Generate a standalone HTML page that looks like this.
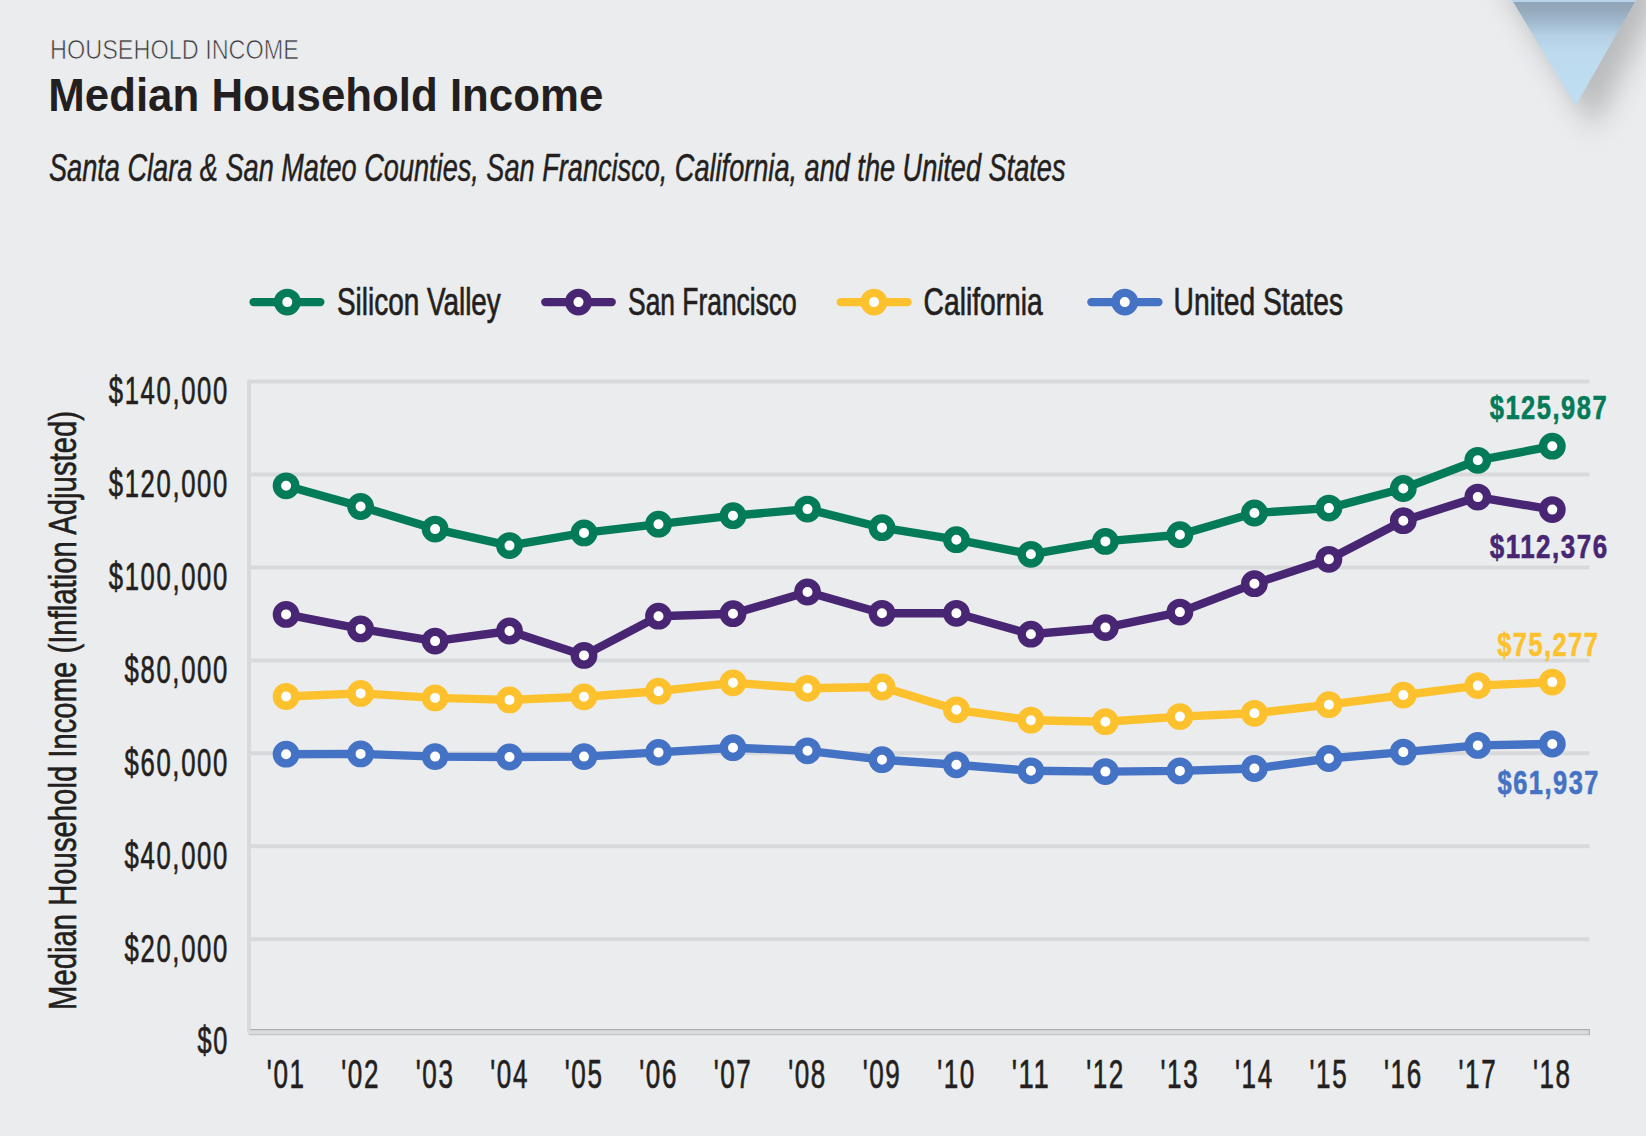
<!DOCTYPE html>
<html><head><meta charset="utf-8"><title>Median Household Income</title>
<style>
html,body{margin:0;padding:0;background:#ebecee;overflow:hidden;}
svg{display:block;font-family:"Liberation Sans", sans-serif;}
</style></head>
<body>
<svg width="1646" height="1136" viewBox="0 0 1646 1136">
<rect width="1646" height="1136" fill="#ebecee"/>

<defs>
  <linearGradient id="tri" gradientUnits="userSpaceOnUse" x1="0" y1="0" x2="0" y2="106">
    <stop offset="0" stop-color="#8fa4b7"/>
    <stop offset="0.1" stop-color="#95aabd"/>
    <stop offset="0.22" stop-color="#a3bbd0"/>
    <stop offset="0.34" stop-color="#b5d0e5"/>
    <stop offset="0.5" stop-color="#bddaee"/>
    <stop offset="1" stop-color="#c0def2"/>
  </linearGradient>
  <filter id="sh" x="-50%" y="-50%" width="200%" height="200%">
    <feGaussianBlur stdDeviation="14"/>
  </filter>
</defs>
<path d="M1500,-20 L1660,-20 L1660,0 L1594,130 Z" fill="#8a8b8d" opacity="0.5" filter="url(#sh)"/>
<path d="M1512,0 L1636,0 L1575.5,106 Z" fill="url(#tri)"/>
<rect x="1512" y="0" width="124" height="2" fill="#b9d4ea"/>

<text x="50.0" y="58.9" font-size="27" font-weight="normal" font-style="normal" fill="#38383a" text-anchor="start" textLength="249.0" lengthAdjust="spacingAndGlyphs" stroke="#ebecee" stroke-width="0.7">HOUSEHOLD INCOME</text>
<text x="48.3" y="110.8" font-size="46.4" font-weight="bold" font-style="normal" fill="#231f20" text-anchor="start" textLength="555.0" lengthAdjust="spacingAndGlyphs">Median Household Income</text>
<text x="49.0" y="181.0" font-size="38" font-weight="normal" font-style="italic" fill="#231f20" text-anchor="start" textLength="1016.5" lengthAdjust="spacingAndGlyphs" stroke="#231f20" stroke-width="0.5">Santa Clara &amp; San Mateo Counties, San Francisco, California, and the United States</text>
<line x1="253.6" y1="302.1" x2="320.3" y2="302.1" stroke="#037b58" stroke-width="8.4" stroke-linecap="round"/>
<circle cx="287.3" cy="302.1" r="9.2" fill="#fff" stroke="#037b58" stroke-width="8.4"/>
<text x="337.0" y="314.9" font-size="38" font-weight="normal" font-style="normal" fill="#231f20" text-anchor="start" textLength="163.8" lengthAdjust="spacingAndGlyphs" stroke="#231f20" stroke-width="0.7">Silicon Valley</text>
<line x1="545.3" y1="302.1" x2="611.7" y2="302.1" stroke="#482673" stroke-width="8.4" stroke-linecap="round"/>
<circle cx="578.5" cy="302.1" r="9.2" fill="#fff" stroke="#482673" stroke-width="8.4"/>
<text x="628.1" y="314.9" font-size="38" font-weight="normal" font-style="normal" fill="#231f20" text-anchor="start" textLength="168.6" lengthAdjust="spacingAndGlyphs" stroke="#231f20" stroke-width="0.7">San Francisco</text>
<line x1="840.8" y1="302.1" x2="907.5" y2="302.1" stroke="#fcc12d" stroke-width="8.4" stroke-linecap="round"/>
<circle cx="874.0" cy="302.1" r="9.2" fill="#fff" stroke="#fcc12d" stroke-width="8.4"/>
<text x="923.6" y="314.9" font-size="38" font-weight="normal" font-style="normal" fill="#231f20" text-anchor="start" textLength="119.1" lengthAdjust="spacingAndGlyphs" stroke="#231f20" stroke-width="0.7">California</text>
<line x1="1091.4" y1="302.1" x2="1158.4" y2="302.1" stroke="#4472c4" stroke-width="8.4" stroke-linecap="round"/>
<circle cx="1124.8" cy="302.1" r="9.2" fill="#fff" stroke="#4472c4" stroke-width="8.4"/>
<text x="1173.6" y="314.9" font-size="38" font-weight="normal" font-style="normal" fill="#231f20" text-anchor="start" textLength="169.4" lengthAdjust="spacingAndGlyphs" stroke="#231f20" stroke-width="0.7">United States</text>
<line x1="249" y1="474.4" x2="1589.5" y2="474.4" stroke="#d8d9db" stroke-width="4"/>
<line x1="249" y1="567.4" x2="1589.5" y2="567.4" stroke="#d8d9db" stroke-width="4"/>
<line x1="249" y1="660.4" x2="1589.5" y2="660.4" stroke="#d8d9db" stroke-width="4"/>
<line x1="249" y1="753.3" x2="1589.5" y2="753.3" stroke="#d8d9db" stroke-width="4"/>
<line x1="249" y1="846.2" x2="1589.5" y2="846.2" stroke="#d8d9db" stroke-width="4"/>
<line x1="249" y1="939.2" x2="1589.5" y2="939.2" stroke="#d8d9db" stroke-width="4"/>
<path d="M1589.5,381.5 L249,381.5 L249,1032" fill="none" stroke="#d8d9db" stroke-width="4" stroke-linejoin="round"/>
<rect x="248" y="1030" width="1341.5" height="4.5" fill="#dadbdd"/>
<rect x="250.5" y="1029" width="1339" height="1.2" fill="#abacae"/>
<rect x="249" y="1034" width="1340.5" height="1.2" fill="#c3c4c6"/>
<rect x="1588.8" y="1029" width="1.2" height="6" fill="#b0b1b3"/>
<text x="108.8" y="403.8" font-size="39" font-weight="normal" font-style="normal" fill="#231f20" text-anchor="start" textLength="120.1" lengthAdjust="spacingAndGlyphs" stroke="#231f20" stroke-width="0.7" letter-spacing="2.5">$140,000</text>
<text x="108.8" y="496.8" font-size="39" font-weight="normal" font-style="normal" fill="#231f20" text-anchor="start" textLength="120.1" lengthAdjust="spacingAndGlyphs" stroke="#231f20" stroke-width="0.7" letter-spacing="2.5">$120,000</text>
<text x="108.8" y="589.7" font-size="39" font-weight="normal" font-style="normal" fill="#231f20" text-anchor="start" textLength="120.1" lengthAdjust="spacingAndGlyphs" stroke="#231f20" stroke-width="0.7" letter-spacing="2.5">$100,000</text>
<text x="124.6" y="682.6" font-size="39" font-weight="normal" font-style="normal" fill="#231f20" text-anchor="start" textLength="104.3" lengthAdjust="spacingAndGlyphs" stroke="#231f20" stroke-width="0.7" letter-spacing="2.5">$80,000</text>
<text x="124.6" y="775.6" font-size="39" font-weight="normal" font-style="normal" fill="#231f20" text-anchor="start" textLength="104.3" lengthAdjust="spacingAndGlyphs" stroke="#231f20" stroke-width="0.7" letter-spacing="2.5">$60,000</text>
<text x="124.6" y="868.5" font-size="39" font-weight="normal" font-style="normal" fill="#231f20" text-anchor="start" textLength="104.3" lengthAdjust="spacingAndGlyphs" stroke="#231f20" stroke-width="0.7" letter-spacing="2.5">$40,000</text>
<text x="124.6" y="961.5" font-size="39" font-weight="normal" font-style="normal" fill="#231f20" text-anchor="start" textLength="104.3" lengthAdjust="spacingAndGlyphs" stroke="#231f20" stroke-width="0.7" letter-spacing="2.5">$20,000</text>
<text x="197.5" y="1054.3" font-size="39" font-weight="normal" font-style="normal" fill="#231f20" text-anchor="start" textLength="31.4" lengthAdjust="spacingAndGlyphs" stroke="#231f20" stroke-width="0.7" letter-spacing="2.5">$0</text>
<text transform="translate(76.1,1010) rotate(-90)" font-size="39" fill="#231f20" stroke="#231f20" stroke-width="0.6" textLength="599" lengthAdjust="spacingAndGlyphs">Median Household Income (Inflation Adjusted)</text>
<text x="286.2" y="1088.1" font-size="41" font-weight="normal" font-style="normal" fill="#231f20" text-anchor="middle" textLength="38.7" lengthAdjust="spacingAndGlyphs" stroke="#231f20" stroke-width="0.7" letter-spacing="2.5">'01</text>
<text x="360.6" y="1088.1" font-size="41" font-weight="normal" font-style="normal" fill="#231f20" text-anchor="middle" textLength="38.7" lengthAdjust="spacingAndGlyphs" stroke="#231f20" stroke-width="0.7" letter-spacing="2.5">'02</text>
<text x="435.1" y="1088.1" font-size="41" font-weight="normal" font-style="normal" fill="#231f20" text-anchor="middle" textLength="38.7" lengthAdjust="spacingAndGlyphs" stroke="#231f20" stroke-width="0.7" letter-spacing="2.5">'03</text>
<text x="509.6" y="1088.1" font-size="41" font-weight="normal" font-style="normal" fill="#231f20" text-anchor="middle" textLength="38.7" lengthAdjust="spacingAndGlyphs" stroke="#231f20" stroke-width="0.7" letter-spacing="2.5">'04</text>
<text x="584.1" y="1088.1" font-size="41" font-weight="normal" font-style="normal" fill="#231f20" text-anchor="middle" textLength="38.7" lengthAdjust="spacingAndGlyphs" stroke="#231f20" stroke-width="0.7" letter-spacing="2.5">'05</text>
<text x="658.6" y="1088.1" font-size="41" font-weight="normal" font-style="normal" fill="#231f20" text-anchor="middle" textLength="38.7" lengthAdjust="spacingAndGlyphs" stroke="#231f20" stroke-width="0.7" letter-spacing="2.5">'06</text>
<text x="733.0" y="1088.1" font-size="41" font-weight="normal" font-style="normal" fill="#231f20" text-anchor="middle" textLength="38.7" lengthAdjust="spacingAndGlyphs" stroke="#231f20" stroke-width="0.7" letter-spacing="2.5">'07</text>
<text x="807.5" y="1088.1" font-size="41" font-weight="normal" font-style="normal" fill="#231f20" text-anchor="middle" textLength="38.7" lengthAdjust="spacingAndGlyphs" stroke="#231f20" stroke-width="0.7" letter-spacing="2.5">'08</text>
<text x="882.0" y="1088.1" font-size="41" font-weight="normal" font-style="normal" fill="#231f20" text-anchor="middle" textLength="38.7" lengthAdjust="spacingAndGlyphs" stroke="#231f20" stroke-width="0.7" letter-spacing="2.5">'09</text>
<text x="956.5" y="1088.1" font-size="41" font-weight="normal" font-style="normal" fill="#231f20" text-anchor="middle" textLength="38.7" lengthAdjust="spacingAndGlyphs" stroke="#231f20" stroke-width="0.7" letter-spacing="2.5">'10</text>
<text x="1031.0" y="1088.1" font-size="41" font-weight="normal" font-style="normal" fill="#231f20" text-anchor="middle" textLength="38.7" lengthAdjust="spacingAndGlyphs" stroke="#231f20" stroke-width="0.7" letter-spacing="2.5">'11</text>
<text x="1105.5" y="1088.1" font-size="41" font-weight="normal" font-style="normal" fill="#231f20" text-anchor="middle" textLength="38.7" lengthAdjust="spacingAndGlyphs" stroke="#231f20" stroke-width="0.7" letter-spacing="2.5">'12</text>
<text x="1179.9" y="1088.1" font-size="41" font-weight="normal" font-style="normal" fill="#231f20" text-anchor="middle" textLength="38.7" lengthAdjust="spacingAndGlyphs" stroke="#231f20" stroke-width="0.7" letter-spacing="2.5">'13</text>
<text x="1254.4" y="1088.1" font-size="41" font-weight="normal" font-style="normal" fill="#231f20" text-anchor="middle" textLength="38.7" lengthAdjust="spacingAndGlyphs" stroke="#231f20" stroke-width="0.7" letter-spacing="2.5">'14</text>
<text x="1328.9" y="1088.1" font-size="41" font-weight="normal" font-style="normal" fill="#231f20" text-anchor="middle" textLength="38.7" lengthAdjust="spacingAndGlyphs" stroke="#231f20" stroke-width="0.7" letter-spacing="2.5">'15</text>
<text x="1403.4" y="1088.1" font-size="41" font-weight="normal" font-style="normal" fill="#231f20" text-anchor="middle" textLength="38.7" lengthAdjust="spacingAndGlyphs" stroke="#231f20" stroke-width="0.7" letter-spacing="2.5">'16</text>
<text x="1477.9" y="1088.1" font-size="41" font-weight="normal" font-style="normal" fill="#231f20" text-anchor="middle" textLength="38.7" lengthAdjust="spacingAndGlyphs" stroke="#231f20" stroke-width="0.7" letter-spacing="2.5">'17</text>
<text x="1552.3" y="1088.1" font-size="41" font-weight="normal" font-style="normal" fill="#231f20" text-anchor="middle" textLength="38.7" lengthAdjust="spacingAndGlyphs" stroke="#231f20" stroke-width="0.7" letter-spacing="2.5">'18</text>
<polyline points="286.1,754.2 360.6,753.9 435.1,756.6 509.5,757.0 584.0,756.6 658.5,752.4 733.0,747.7 807.5,750.8 882.0,759.7 956.4,764.8 1030.9,770.8 1105.4,771.6 1179.9,770.9 1254.4,768.5 1328.9,758.5 1403.3,752.1 1477.8,745.4 1552.3,744.0" fill="none" stroke="#4472c4" stroke-width="8.4" stroke-linejoin="round" stroke-linecap="round"/>
<circle cx="286.1" cy="754.2" r="9.2" fill="#fff" stroke="#4472c4" stroke-width="8.4"/>
<circle cx="360.6" cy="753.9" r="9.2" fill="#fff" stroke="#4472c4" stroke-width="8.4"/>
<circle cx="435.1" cy="756.6" r="9.2" fill="#fff" stroke="#4472c4" stroke-width="8.4"/>
<circle cx="509.5" cy="757.0" r="9.2" fill="#fff" stroke="#4472c4" stroke-width="8.4"/>
<circle cx="584.0" cy="756.6" r="9.2" fill="#fff" stroke="#4472c4" stroke-width="8.4"/>
<circle cx="658.5" cy="752.4" r="9.2" fill="#fff" stroke="#4472c4" stroke-width="8.4"/>
<circle cx="733.0" cy="747.7" r="9.2" fill="#fff" stroke="#4472c4" stroke-width="8.4"/>
<circle cx="807.5" cy="750.8" r="9.2" fill="#fff" stroke="#4472c4" stroke-width="8.4"/>
<circle cx="882.0" cy="759.7" r="9.2" fill="#fff" stroke="#4472c4" stroke-width="8.4"/>
<circle cx="956.4" cy="764.8" r="9.2" fill="#fff" stroke="#4472c4" stroke-width="8.4"/>
<circle cx="1030.9" cy="770.8" r="9.2" fill="#fff" stroke="#4472c4" stroke-width="8.4"/>
<circle cx="1105.4" cy="771.6" r="9.2" fill="#fff" stroke="#4472c4" stroke-width="8.4"/>
<circle cx="1179.9" cy="770.9" r="9.2" fill="#fff" stroke="#4472c4" stroke-width="8.4"/>
<circle cx="1254.4" cy="768.5" r="9.2" fill="#fff" stroke="#4472c4" stroke-width="8.4"/>
<circle cx="1328.9" cy="758.5" r="9.2" fill="#fff" stroke="#4472c4" stroke-width="8.4"/>
<circle cx="1403.3" cy="752.1" r="9.2" fill="#fff" stroke="#4472c4" stroke-width="8.4"/>
<circle cx="1477.8" cy="745.4" r="9.2" fill="#fff" stroke="#4472c4" stroke-width="8.4"/>
<circle cx="1552.3" cy="744.0" r="9.2" fill="#fff" stroke="#4472c4" stroke-width="8.4"/>
<polyline points="286.1,696.5 360.6,693.4 435.1,697.9 509.5,699.9 584.0,696.8 658.5,691.2 733.0,682.8 807.5,688.3 882.0,687.0 956.4,709.8 1030.9,720.2 1105.4,721.7 1179.9,716.6 1254.4,713.3 1328.9,704.7 1403.3,695.1 1477.8,685.6 1552.3,682.1" fill="none" stroke="#fcc12d" stroke-width="8.4" stroke-linejoin="round" stroke-linecap="round"/>
<circle cx="286.1" cy="696.5" r="9.2" fill="#fff" stroke="#fcc12d" stroke-width="8.4"/>
<circle cx="360.6" cy="693.4" r="9.2" fill="#fff" stroke="#fcc12d" stroke-width="8.4"/>
<circle cx="435.1" cy="697.9" r="9.2" fill="#fff" stroke="#fcc12d" stroke-width="8.4"/>
<circle cx="509.5" cy="699.9" r="9.2" fill="#fff" stroke="#fcc12d" stroke-width="8.4"/>
<circle cx="584.0" cy="696.8" r="9.2" fill="#fff" stroke="#fcc12d" stroke-width="8.4"/>
<circle cx="658.5" cy="691.2" r="9.2" fill="#fff" stroke="#fcc12d" stroke-width="8.4"/>
<circle cx="733.0" cy="682.8" r="9.2" fill="#fff" stroke="#fcc12d" stroke-width="8.4"/>
<circle cx="807.5" cy="688.3" r="9.2" fill="#fff" stroke="#fcc12d" stroke-width="8.4"/>
<circle cx="882.0" cy="687.0" r="9.2" fill="#fff" stroke="#fcc12d" stroke-width="8.4"/>
<circle cx="956.4" cy="709.8" r="9.2" fill="#fff" stroke="#fcc12d" stroke-width="8.4"/>
<circle cx="1030.9" cy="720.2" r="9.2" fill="#fff" stroke="#fcc12d" stroke-width="8.4"/>
<circle cx="1105.4" cy="721.7" r="9.2" fill="#fff" stroke="#fcc12d" stroke-width="8.4"/>
<circle cx="1179.9" cy="716.6" r="9.2" fill="#fff" stroke="#fcc12d" stroke-width="8.4"/>
<circle cx="1254.4" cy="713.3" r="9.2" fill="#fff" stroke="#fcc12d" stroke-width="8.4"/>
<circle cx="1328.9" cy="704.7" r="9.2" fill="#fff" stroke="#fcc12d" stroke-width="8.4"/>
<circle cx="1403.3" cy="695.1" r="9.2" fill="#fff" stroke="#fcc12d" stroke-width="8.4"/>
<circle cx="1477.8" cy="685.6" r="9.2" fill="#fff" stroke="#fcc12d" stroke-width="8.4"/>
<circle cx="1552.3" cy="682.1" r="9.2" fill="#fff" stroke="#fcc12d" stroke-width="8.4"/>
<polyline points="286.1,614.4 360.6,628.9 435.1,641.1 509.5,631.0 584.0,655.4 658.5,616.2 733.0,613.7 807.5,592.0 882.0,613.3 956.4,613.3 1030.9,634.2 1105.4,627.6 1179.9,612.1 1254.4,583.7 1328.9,559.3 1403.3,520.7 1477.8,497.1 1552.3,509.6" fill="none" stroke="#482673" stroke-width="8.4" stroke-linejoin="round" stroke-linecap="round"/>
<circle cx="286.1" cy="614.4" r="9.2" fill="#fff" stroke="#482673" stroke-width="8.4"/>
<circle cx="360.6" cy="628.9" r="9.2" fill="#fff" stroke="#482673" stroke-width="8.4"/>
<circle cx="435.1" cy="641.1" r="9.2" fill="#fff" stroke="#482673" stroke-width="8.4"/>
<circle cx="509.5" cy="631.0" r="9.2" fill="#fff" stroke="#482673" stroke-width="8.4"/>
<circle cx="584.0" cy="655.4" r="9.2" fill="#fff" stroke="#482673" stroke-width="8.4"/>
<circle cx="658.5" cy="616.2" r="9.2" fill="#fff" stroke="#482673" stroke-width="8.4"/>
<circle cx="733.0" cy="613.7" r="9.2" fill="#fff" stroke="#482673" stroke-width="8.4"/>
<circle cx="807.5" cy="592.0" r="9.2" fill="#fff" stroke="#482673" stroke-width="8.4"/>
<circle cx="882.0" cy="613.3" r="9.2" fill="#fff" stroke="#482673" stroke-width="8.4"/>
<circle cx="956.4" cy="613.3" r="9.2" fill="#fff" stroke="#482673" stroke-width="8.4"/>
<circle cx="1030.9" cy="634.2" r="9.2" fill="#fff" stroke="#482673" stroke-width="8.4"/>
<circle cx="1105.4" cy="627.6" r="9.2" fill="#fff" stroke="#482673" stroke-width="8.4"/>
<circle cx="1179.9" cy="612.1" r="9.2" fill="#fff" stroke="#482673" stroke-width="8.4"/>
<circle cx="1254.4" cy="583.7" r="9.2" fill="#fff" stroke="#482673" stroke-width="8.4"/>
<circle cx="1328.9" cy="559.3" r="9.2" fill="#fff" stroke="#482673" stroke-width="8.4"/>
<circle cx="1403.3" cy="520.7" r="9.2" fill="#fff" stroke="#482673" stroke-width="8.4"/>
<circle cx="1477.8" cy="497.1" r="9.2" fill="#fff" stroke="#482673" stroke-width="8.4"/>
<circle cx="1552.3" cy="509.6" r="9.2" fill="#fff" stroke="#482673" stroke-width="8.4"/>
<polyline points="286.1,485.8 360.6,506.5 435.1,529.1 509.5,545.6 584.0,532.9 658.5,524.2 733.0,515.7 807.5,509.1 882.0,527.7 956.4,539.7 1030.9,554.3 1105.4,541.4 1179.9,534.7 1254.4,513.0 1328.9,508.1 1403.3,488.5 1477.8,460.3 1552.3,446.2" fill="none" stroke="#037b58" stroke-width="8.4" stroke-linejoin="round" stroke-linecap="round"/>
<circle cx="286.1" cy="485.8" r="9.2" fill="#fff" stroke="#037b58" stroke-width="8.4"/>
<circle cx="360.6" cy="506.5" r="9.2" fill="#fff" stroke="#037b58" stroke-width="8.4"/>
<circle cx="435.1" cy="529.1" r="9.2" fill="#fff" stroke="#037b58" stroke-width="8.4"/>
<circle cx="509.5" cy="545.6" r="9.2" fill="#fff" stroke="#037b58" stroke-width="8.4"/>
<circle cx="584.0" cy="532.9" r="9.2" fill="#fff" stroke="#037b58" stroke-width="8.4"/>
<circle cx="658.5" cy="524.2" r="9.2" fill="#fff" stroke="#037b58" stroke-width="8.4"/>
<circle cx="733.0" cy="515.7" r="9.2" fill="#fff" stroke="#037b58" stroke-width="8.4"/>
<circle cx="807.5" cy="509.1" r="9.2" fill="#fff" stroke="#037b58" stroke-width="8.4"/>
<circle cx="882.0" cy="527.7" r="9.2" fill="#fff" stroke="#037b58" stroke-width="8.4"/>
<circle cx="956.4" cy="539.7" r="9.2" fill="#fff" stroke="#037b58" stroke-width="8.4"/>
<circle cx="1030.9" cy="554.3" r="9.2" fill="#fff" stroke="#037b58" stroke-width="8.4"/>
<circle cx="1105.4" cy="541.4" r="9.2" fill="#fff" stroke="#037b58" stroke-width="8.4"/>
<circle cx="1179.9" cy="534.7" r="9.2" fill="#fff" stroke="#037b58" stroke-width="8.4"/>
<circle cx="1254.4" cy="513.0" r="9.2" fill="#fff" stroke="#037b58" stroke-width="8.4"/>
<circle cx="1328.9" cy="508.1" r="9.2" fill="#fff" stroke="#037b58" stroke-width="8.4"/>
<circle cx="1403.3" cy="488.5" r="9.2" fill="#fff" stroke="#037b58" stroke-width="8.4"/>
<circle cx="1477.8" cy="460.3" r="9.2" fill="#fff" stroke="#037b58" stroke-width="8.4"/>
<circle cx="1552.3" cy="446.2" r="9.2" fill="#fff" stroke="#037b58" stroke-width="8.4"/>
<text x="1489.7" y="418.9" font-size="33.8" font-weight="bold" font-style="normal" fill="#037b58" text-anchor="start" textLength="118.4" lengthAdjust="spacingAndGlyphs" stroke="#037b58" stroke-width="0.6" letter-spacing="2">$125,987</text>
<text x="1489.7" y="557.7" font-size="33.8" font-weight="bold" font-style="normal" fill="#482673" text-anchor="start" textLength="119.0" lengthAdjust="spacingAndGlyphs" stroke="#482673" stroke-width="0.6" letter-spacing="2">$112,376</text>
<text x="1497.2" y="655.7" font-size="33.8" font-weight="bold" font-style="normal" fill="#fcc12d" text-anchor="start" textLength="102.1" lengthAdjust="spacingAndGlyphs" stroke="#fcc12d" stroke-width="0.6" letter-spacing="2">$75,277</text>
<text x="1497.6" y="793.9" font-size="33.8" font-weight="bold" font-style="normal" fill="#4472c4" text-anchor="start" textLength="102.4" lengthAdjust="spacingAndGlyphs" stroke="#4472c4" stroke-width="0.6" letter-spacing="2">$61,937</text>
</svg>
</body></html>
